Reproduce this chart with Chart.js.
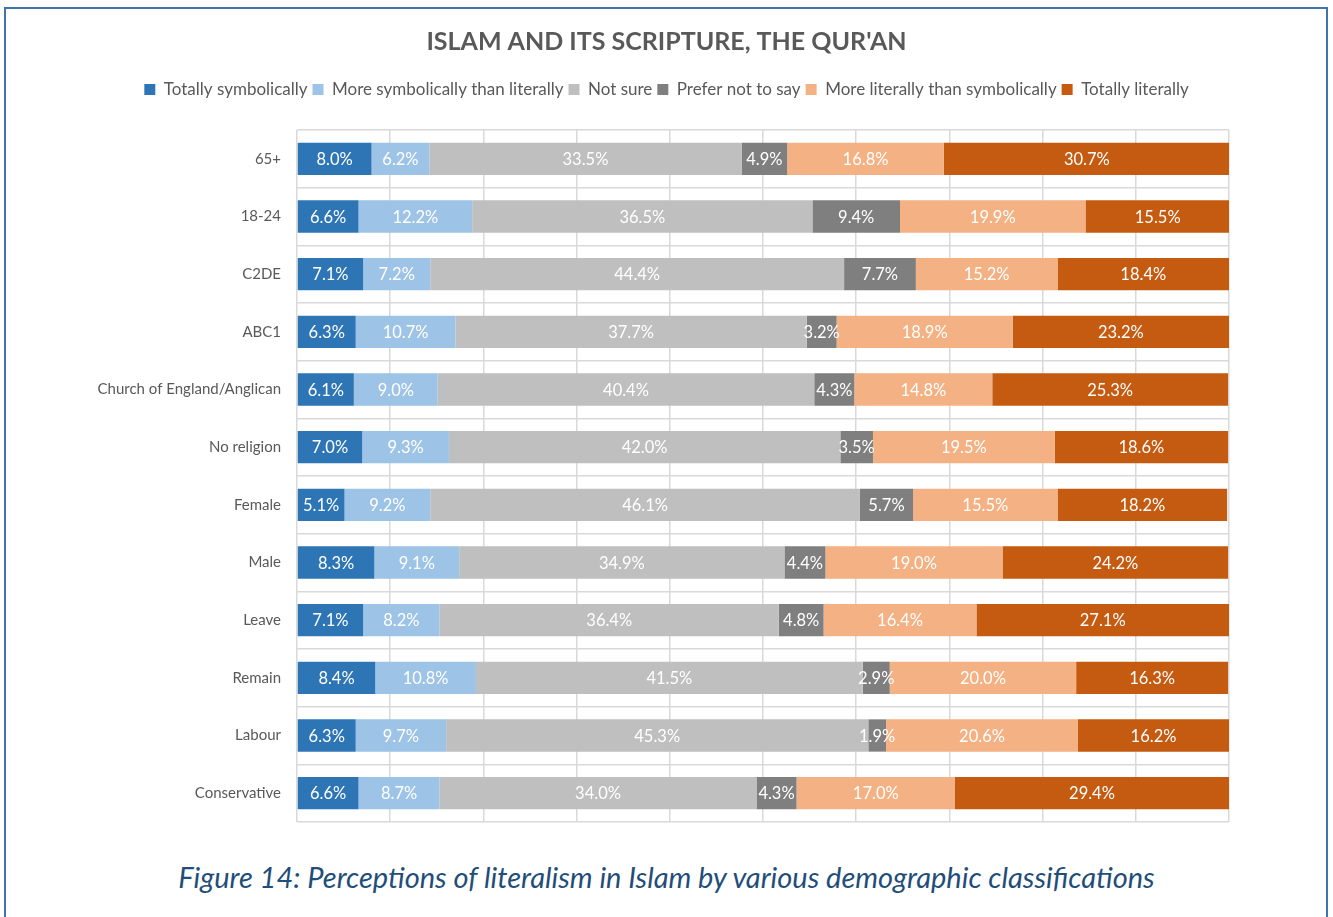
<!DOCTYPE html>
<html lang="en">
<head>
  <meta charset="UTF-8">
  <title>Islam and its scripture, the Qur'an</title>
  <script src="https://cdn.jsdelivr.net/npm/chart.js"></script>
  <style>
    body { margin: 0; background: #fff; font-family: Lato, sans-serif; }
    .page { position: relative; width: 1333px; height: 917px; overflow: hidden; }
    .frame { position: absolute; left: 4px; top: 7px; width: 1320px; height: 930px; border: 2px solid #3f74a8; }
    #chart { position: absolute; left: 0; top: 0; }
    .caption { position: absolute; left: 0; width: 1333px; top: 859px; text-align: center;
               font: italic 400 29px Lato, sans-serif; color: #1f4e79; }
  </style>
</head>
<body>
  <div class="page">
    <div class="frame"></div>
    <canvas id="chart" width="1333" height="850"></canvas>
    <div class="caption">Figure 14: Perceptions of literalism in Islam by various demographic classifications</div>
  </div>

  <script>
    // categories, top to bottom
    const categories = ['65+', '18-24', 'C2DE', 'ABC1', 'Church of England/Anglican', 'No religion',
                        'Female', 'Male', 'Leave', 'Remain', 'Labour', 'Conservative'];

    // percentages per answer
    const totallySymbolically   = [8.0, 6.6, 7.1, 6.3, 6.1, 7.0, 5.1, 8.3, 7.1, 8.4, 6.3, 6.6];
    const moreSymbolically      = [6.2, 12.2, 7.2, 10.7, 9.0, 9.3, 9.2, 9.1, 8.2, 10.8, 9.7, 8.7];
    const notSure               = [33.5, 36.5, 44.4, 37.7, 40.4, 42.0, 46.1, 34.9, 36.4, 41.5, 45.3, 34.0];
    const preferNotToSay        = [4.9, 9.4, 7.7, 3.2, 4.3, 3.5, 5.7, 4.4, 4.8, 2.9, 1.9, 4.3];
    const moreLiterally         = [16.8, 19.9, 15.2, 18.9, 14.8, 19.5, 15.5, 19.0, 16.4, 20.0, 20.6, 17.0];
    const totallyLiterally      = [30.7, 15.5, 18.4, 23.2, 25.3, 18.6, 18.2, 24.2, 27.1, 16.3, 16.2, 29.4];

    const textGrey = '#595959';
    const gridGrey = '#d9d9d9';

    function series(label, data, color) {
      return { label: label, data: data, backgroundColor: color,
               barPercentage: 0.56, categoryPercentage: 1.0 };
    }

    // white value labels centred in each segment
    const segmentLabels = {
      id: 'segmentLabels',
      afterDatasetsDraw(chart) {
        const ctx = chart.ctx;
        ctx.save();
        ctx.fillStyle = '#ffffff';
        ctx.font = '16.5px Lato, sans-serif';
        ctx.textAlign = 'center';
        ctx.textBaseline = 'middle';
        chart.data.datasets.forEach((ds, i) => {
          chart.getDatasetMeta(i).data.forEach((bar, j) => {
            const cx = (bar.x + bar.base) / 2;
            ctx.fillText(ds.data[j].toFixed(1) + '%', cx, bar.y + 1);
          });
        });
        ctx.restore();
      }
    };

    // extra space under the legend
    const legendGap = {
      id: 'legendGap',
      beforeInit(chart) {
        const fit = chart.legend.fit;
        chart.legend.fit = function () {
          fit.bind(chart.legend)();
          this.height += 22;
        };
      }
    };

    new Chart('chart', {
      type: 'bar',
      data: {
        labels: categories,
        datasets: [
          series('Totally symbolically', totallySymbolically, '#2e75b6'),
          series('More symbolically than literally', moreSymbolically, '#9dc3e6'),
          series('Not sure', notSure, '#bfbfbf'),
          series('Prefer not to say', preferNotToSay, '#7f7f7f'),
          series('More literally than symbolically', moreLiterally, '#f4b183'),
          series('Totally literally', totallyLiterally, '#c55a11')
        ]
      },
      options: {
        indexAxis: 'y',
        responsive: false,
        animation: false,
        layout: { padding: { left: 62, right: 62, top: 0, bottom: 28 } },
        scales: {
          x: {
            stacked: true, min: 0, max: 100,
            ticks: { display: false, stepSize: 10 },
            grid: { color: gridGrey, lineWidth: 1.5, drawTicks: false },
            border: { display: false }
          },
          y: {
            stacked: true,
            afterFit: s => { s.width = 235; },
            ticks: { color: textGrey, font: { family: 'Lato', size: 15 }, padding: 16 },
            grid: { color: gridGrey, lineWidth: 1.5, drawTicks: false },
            border: { display: false }
          },
          // empty axis on the right, only to keep the plot left of centre
          spacer: {
            type: 'linear', axis: 'y', position: 'right',
            afterFit: s => { s.width = 42; },
            ticks: { display: false },
            grid: { display: false, drawTicks: false },
            border: { display: false }
          }
        },
        plugins: {
          title: {
            display: true,
            text: "ISLAM AND ITS SCRIPTURE, THE QUR'AN",
            color: textGrey,
            font: { family: 'Lato', size: 25, weight: 'bold' },
            padding: { top: 27, bottom: 19 }
          },
          legend: {
            labels: {
              color: textGrey,
              font: { family: 'Lato', size: 17 },
              boxWidth: 11, boxHeight: 11, padding: 5
            }
          },
          tooltip: { enabled: false }
        }
      },
      plugins: [segmentLabels, legendGap]
    });
  </script>
</body>
</html>
